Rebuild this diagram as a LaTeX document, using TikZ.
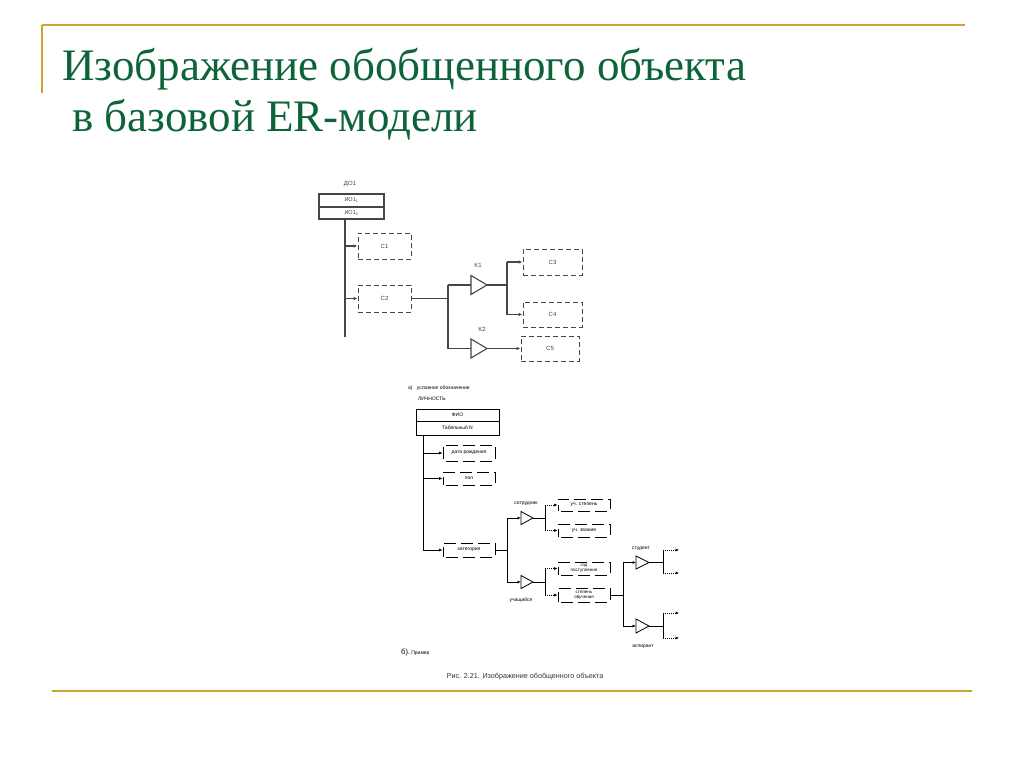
\documentclass[tikz,border=0pt]{standalone}
\usepackage{fontspec}
\setmainfont{Liberation Serif}
\newfontfamily\diagfont{Liberation Sans}
\usetikzlibrary{arrows.meta}
\definecolor{gold}{RGB}{204,163,45}
\definecolor{titlegreen}{RGB}{12,100,56}
\definecolor{lineA}{RGB}{70,70,70}
\newcommand\mytri[6]{% #1 name, #2 x-left, #3 y-center, #4 width, #5 half-height, #6 style
  \coordinate (#1-in) at (#2,#3);
  \coordinate (#1-out) at ({#2+#4},#3);
  \draw[#6] (#2,{#3-#5}) -- (#1-out) -- (#2,{#3+#5}) -- cycle;}
\tikzset{
  la/.style={draw=lineA, line width=1.1pt},
  lb/.style={draw=black, line width=0.8pt},
  arrA/.style={la, -{Latex[length=4pt,width=3.5pt]}},
  arrB/.style={lb, -{Latex[length=3.5pt,width=3pt]}},
  dotarr/.style={draw=black, line width=0.6pt, dash pattern=on 0.8pt off 1.2pt, -{Latex[length=3.5pt,width=3pt]}},
  boxA/.style={draw=lineA, line width=1pt, dash pattern=on 5pt off 3pt, inner sep=0pt, font=\diagfont\fontsize{6}{7}\selectfont, text=black!75},
  boxB/.style={draw=black, line width=0.9pt, dash pattern=on 12pt off 5pt, dash phase=14pt, inner sep=0pt, font=\diagfont\fontsize{5}{5.5}\selectfont, align=center},
  entA/.style={draw=lineA, line width=1.1pt, inner sep=0pt, font=\diagfont\fontsize{5.5}{6}\selectfont, text=black!75},
  entB/.style={draw=black, line width=0.8pt, inner sep=0pt, font=\diagfont\fontsize{5}{6}\selectfont},
  lblA/.style={font=\diagfont\fontsize{6}{7}\selectfont, text=black!75, inner sep=0pt},
  lblB/.style={font=\diagfont\fontsize{5}{6}\selectfont, inner sep=0pt},
  triA/.style={draw=lineA, line width=1.1pt, fill=white},
  triB/.style={draw=black, line width=0.8pt, fill=white},
  ttl/.style={anchor=base west, inner sep=0pt, text=titlegreen, font=\fontsize{45}{50}\selectfont},
}
\begin{document}
\begin{tikzpicture}[x=1pt,y=-1pt]
\useasboundingbox (0,0) rectangle (1024,768);
\fill[white] (0,0) rectangle (1024,768);
% decorative lines
\draw[gold, line width=2pt] (42,25) -- (965,25);
\draw[gold, line width=1.6pt] (42,25) -- (42,93);
\draw[gold, line width=2.4pt] (52,691) -- (972,691);
% title
\node[ttl] (t1) at (62,80) {Изображение обобщенного объекта};
\node[ttl] (t2) at (72,131) {в базовой ER-модели};

% ===== diagram a) =====
\node[lblA] (do1) at (350,184) {ДО1};
\node[entA, minimum width=65pt, minimum height=13pt] (r1) at (351.5,200.5) {ИО1\textsubscript{1}};
\node[entA, minimum width=65pt, minimum height=12pt] (r2) at (351.5,213) {ИО1\textsubscript{2}};
\coordinate (av) at (345,219);
\coordinate (aend) at (345,337);
\draw[la] (av) -- (aend);
\node[boxA, minimum width=53pt, minimum height=26pt] (c1) at (384.5,246) {C1};
\node[boxA, minimum width=53pt, minimum height=27pt] (c2) at (384.5,298.5) {C2};
\draw[arrA] (av |- c1.west) -- (c1.west);
\draw[arrA] (av |- c2.west) -- (c2.west);
\coordinate (aj) at (448,298.5);
\draw[la] (c2.east) -- (aj);
\mytri{k1}{471}{285}{16}{9.5}{triA}
\mytri{k2}{471}{348.5}{16}{9.5}{triA}
\draw[la] (k1-in -| aj) -- (k2-in -| aj);
\draw[la] (k1-in -| aj) -- (k1-in);
\draw[la] (k2-in -| aj) -- (k2-in);
\node[lblA] (k1l) at (478,265) {K1};
\node[lblA] (k2l) at (482,329) {K2};
\node[boxA, minimum width=59pt, minimum height=26pt] (c3) at (552.5,262) {C3};
\node[boxA, minimum width=59pt, minimum height=25pt] (c4) at (552.5,314.5) {C4};
\node[boxA, minimum width=58pt, minimum height=25pt] (c5) at (550,348.5) {C5};
\coordinate (ak) at (507,285);
\draw[la] (k1-out) -- (ak);
\draw[la] (ak |- c3.west) -- (ak |- c4.west);
\draw[arrA] (ak |- c3.west) -- (c3.west);
\draw[arrA] (ak |- c4.west) -- (c4.west);
\draw[arrA] (k2-out) -- (c5.west);

% ===== diagram b) =====
\node[lblB, anchor=west] (capa) at (408,388) {а)\;\; условное обозначение};
\node[lblB, anchor=west] (lich) at (418,399) {ЛИЧНОСТЬ};
\node[entB, minimum width=83pt, minimum height=12pt] (f1) at (457.5,415) {ФИО};
\node[entB, minimum width=83pt, minimum height=14pt] (f2) at (457.5,428) {Табельный N};
\coordinate (bv) at (423,435);
\coordinate (bend) at (423,550);
\draw[lb] (bv) -- (bend);
\node[boxB, minimum width=52pt, minimum height=16pt] (dr) at (469,453) {дата рождения};
\node[boxB, minimum width=52pt, minimum height=13pt] (pol) at (469,478.5) {пол};
\node[boxB, minimum width=52pt, minimum height=14pt] (kat) at (469,550) {категория};
\draw[arrB] (bv |- dr.west) -- (dr.west);
\draw[arrB] (bv |- pol.west) -- (pol.west);
\draw[arrB] (bv |- kat.west) -- (kat.west);
\coordinate (bj) at (507,550);
\draw[lb] (kat.east) -- (bj);
\mytri{so}{521}{518}{12}{6.5}{triB}
\mytri{uc}{521}{582}{12}{6.5}{triB}
\draw[lb] (so-in -| bj) -- (uc-in -| bj);
\draw[arrB] (so-in -| bj) -- (so-in);
\draw[arrB] (uc-in -| bj) -- (uc-in);
\node[lblB] (sol) at (526,504) {сотрудник};
\node[lblB] (ucl) at (521,600) {учащийся};
\node[boxB, minimum width=52pt, minimum height=12pt] (us) at (584,505) {уч. степень};
\node[boxB, minimum width=52pt, minimum height=13pt] (uz) at (584,530.5) {уч. звание};
\node[boxB, minimum width=52pt, minimum height=13pt, font=\diagfont\fontsize{4.5}{5}\selectfont] (gp) at (584,568.5) {год\\поступления};
\node[boxB, minimum width=52pt, minimum height=14pt, font=\diagfont\fontsize{4.5}{5}\selectfont] (so2) at (584,595) {степень\\обучения};
\coordinate (bs) at (545,518);
\coordinate (bu) at (545,582);
\draw[lb] (so-out) -- (bs);
\draw[lb] (bs |- us.west) -- (bs |- uz.west);
\draw[dotarr] (bs |- us.west) -- (us.west);
\draw[dotarr] (bs |- uz.west) -- (uz.west);
\draw[lb] (uc-out) -- (bu);
\draw[lb] (bu |- gp.west) -- (bu |- so2.west);
\draw[dotarr] (bu |- gp.west) -- (gp.west);
\draw[dotarr] (bu |- so2.west) -- (so2.west);
\coordinate (bq) at (623,595);
\draw[lb] (so2.east) -- (bq);
\mytri{st}{636}{562.5}{13}{6.5}{triB}
\mytri{as}{636}{626}{13}{7}{triB}
\draw[lb] (st-in -| bq) -- (as-in -| bq);
\draw[arrB] (st-in -| bq) -- (st-in);
\draw[arrB] (as-in -| bq) -- (as-in);
\node[lblB] (stl) at (641,549) {студент};
\node[lblB] (asl) at (643,647) {аспирант};
\coordinate (bw) at (663,562.5);
\coordinate (bx) at (663,626);
\coordinate (e1) at (679,550);
\coordinate (e2) at (679,573);
\coordinate (e3) at (679,613);
\coordinate (e4) at (679,638);
\draw[lb] (st-out) -- (bw);
\draw[lb] (bw |- e1) -- (bw |- e2);
\draw[dotarr] (bw |- e1) -- (e1);
\draw[dotarr] (bw |- e2) -- (e2);
\draw[lb] (as-out) -- (bx);
\draw[lb] (bx |- e3) -- (bx |- e4);
\draw[dotarr] (bx |- e3) -- (e3);
\draw[dotarr] (bx |- e4) -- (e4);
\node[anchor=base west, inner sep=0pt, font=\diagfont\fontsize{7.5}{8}\selectfont] (capb) at (401,654) {б).\,{\fontsize{5}{6}\selectfont Пример}};
\node[inner sep=0pt, font=\diagfont\fontsize{7.2}{8}\selectfont, text=black!80] (cap) at (525,677) {Рис. 2.21. Изображение обобщенного объекта};
\end{tikzpicture}
\end{document}
